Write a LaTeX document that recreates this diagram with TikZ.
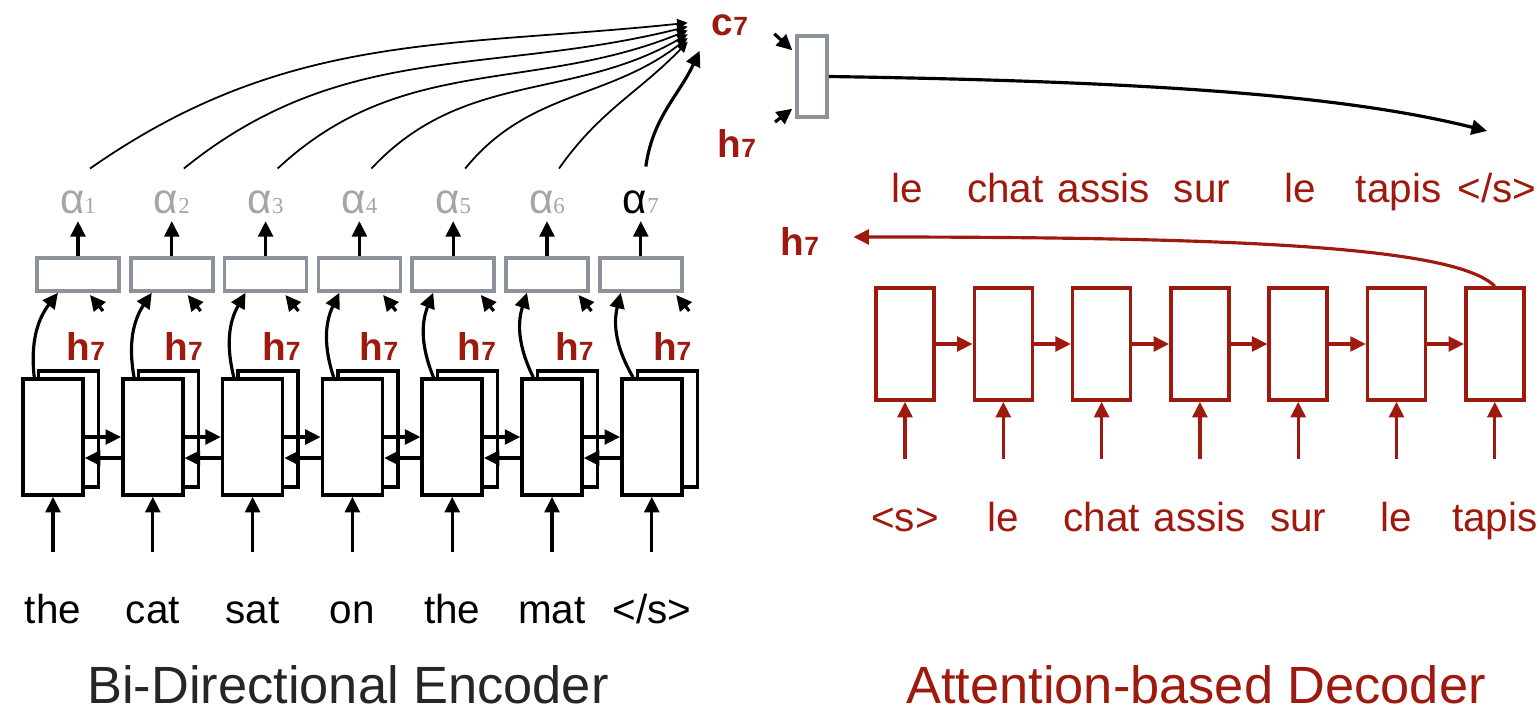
\documentclass[tikz,border=0pt]{standalone}
\usepackage{fontspec}
\setmainfont{Liberation Sans}
\newfontfamily\digitfont{Liberation Serif}
\usetikzlibrary{arrows.meta}

\definecolor{wine}{RGB}{158,26,14}
\definecolor{boxgray}{RGB}{140,146,154}
\definecolor{lightalpha}{RGB}{165,165,165}

\newcommand{\hseven}{\textbf{h\fontsize{7.5}{8}\selectfont 7}}
\newcommand{\cseven}{\textbf{c\fontsize{7.5}{8}\selectfont 7}}
\newcommand{\alphalab}[1]{α{\digitfont\fontsize{6.5}{6.5}\selectfont\color{lightalpha}#1}}

\begin{document}
\begin{tikzpicture}[x=0.01cm, y=0.01cm,
  >={Triangle[length=4.4pt,width=4.2pt]},
  encbox/.style={draw, line width=1pt, fill=white, minimum width=0.6cm, minimum height=1.16cm, inner sep=0pt},
  attbox/.style={draw=boxgray, line width=1pt, fill=white, minimum width=0.82cm, minimum height=0.33cm, inner sep=0pt},
  decbox/.style={draw=wine, line width=1pt, minimum width=0.58cm, minimum height=1.12cm, inner sep=0pt},
  word/.style={font=\fontsize{11.5}{13}\selectfont, anchor=base, inner sep=0pt, text height=8pt, text depth=2.5pt},
  hlab/.style={text=wine, font=\fontsize{11}{13}\selectfont, anchor=base, inner sep=1pt},
  alab/.style={font=\fontsize{12}{14}\selectfont, anchor=base, inner sep=2pt},
  title/.style={font=\fontsize{14.9}{17}\selectfont, anchor=base},
  arr/.style={->, line width=0.9pt},
  attn/.style={>={Triangle[length=3pt,width=2.8pt]}, ->, line width=0.5pt}]

\useasboundingbox (0,0) rectangle (1537,-709);

% encoder
\foreach \i [evaluate=\i as \x using 53+99.8*(\i-1)] in {1,...,7} {
  \node[encbox] (bck\i) at (\x+15.5,-429) {};
  \node[encbox] (enc\i) at (\x,-437) {};
}

% forward and backward links
\foreach \i [evaluate=\i as \j using int(\i+1)] in {1,...,6} {
  \draw[arr] (enc\i.east) -- (enc\j.west);
  \draw[arr] ([yshift=-0.21cm]enc\j.west) -- ([yshift=-0.21cm]enc\i.east);
}

% source words
\foreach \w [count=\i] in {the,cat,sat,on,the,mat,</s>} {
  \pgfmathsetmacro{\x}{53+99.8*(\i-1)}
  \node[word] (src\i) at (\x,-623) {\w};
  \draw[arr] ([yshift=0.42cm]src\i.north) -- (enc\i);
}

% attention scores
\foreach \i/\col [evaluate=\i as \x using 78+93.8*(\i-1)] in {1/lightalpha,2/lightalpha,3/lightalpha,4/lightalpha,5/lightalpha,6/lightalpha,7/black} {
  \node[attbox] (att\i) at (\x,-274.5) {};
  \node[alab, text=\col] (al\i) at (\x,-213) {\alphalab{\i}};
  \draw[arr] (att\i) -- (al\i);
  \draw[arr] ([xshift=0.13cm]enc\i.north west) to[bend left=22] ([xshift=-0.2cm]att\i.south);
}

% decoder state fed to every score
\foreach \i [evaluate=\i as \x using 86+97.7*(\i-1)] in {1,...,7} {
  \node[hlab] (hl\i) at (\x,-360) {\hseven};
  \draw[arr] ([shift={(17,35)}]hl\i.center) -- ([shift={(4,51)}]hl\i.center);
}

% context vector
\node[hlab] (c7) at (730,-35) {\cseven};
\foreach \i [evaluate=\i as \aout using 35+4*(\i-1), evaluate=\i as \ain using 186+8*(\i-1), evaluate=\i as \dy using 2-3.8*(\i-1)] in {1,...,6}
  \draw[attn] ([shift={(12,14)}]al\i.north) to[out=\aout,in=\ain] ([shift={(-20,\dy)}]c7.west);
\draw[arr] ([shift={(5,16)}]al7.north) to[out=82,in=245] ([shift={(-8,-26)}]c7.west);

% combine c7 and h7
\node[attbox, minimum width=0.3cm, minimum height=0.81cm] (comb) at (812,-76.5) {};
\node[hlab] (htop) at (737,-157) {\hseven};
\draw[arr] ([shift={(22,-9)}]c7.east) -- ([shift={(-3,-16)}]comb.north west);
\draw[arr] ([shift={(38,21)}]htop.center) -- ([shift={(-3,10)}]comb.south west);
\coordinate (outtip) at (1487,-131);
\draw[arr] (comb.east) .. controls +(330,-5) and +(-140,35) .. (outtip);

% decoder
\foreach \i [evaluate=\i as \x using 905+98.3*(\i-1)] in {1,...,7}
  \node[decbox] (dec\i) at (\x,-344) {};
\foreach \i [evaluate=\i as \j using int(\i+1)] in {1,...,6}
  \draw[arr, wine] (dec\i) -- (dec\j);

% target words
\foreach \w [count=\i] in {<s>,le,chat,assis,sur,le,tapis} {
  \pgfmathsetmacro{\x}{905+98.3*(\i-1)}
  \node[word, text=wine] (tin\i) at (\x,-531) {\w};
  \draw[arr, wine] ([yshift=0.43cm]tin\i.north) -- (dec\i);
}
\foreach \w [count=\i] in {le,chat,assis,sur,le,tapis,</s>} {
  \pgfmathsetmacro{\x}{907+98.3*(\i-1)}
  \node[word, text=wine] (tout\i) at (\x,-202) {\w};
}

% last decoder state
\node[hlab] (hdec) at (800,-255) {\hseven};
\draw[arr, wine] (dec7.north) .. controls +(-40,40) and +(380,0) .. ([shift={(30,4)}]hdec.east);

% titles
\node[title, text=black!85] (enctitle) at (348,-703) {Bi-Directional Encoder};
\node[title, text=wine] (dectitle) at (1196,-703) {Attention-based Decoder};

\end{tikzpicture}
\end{document}
